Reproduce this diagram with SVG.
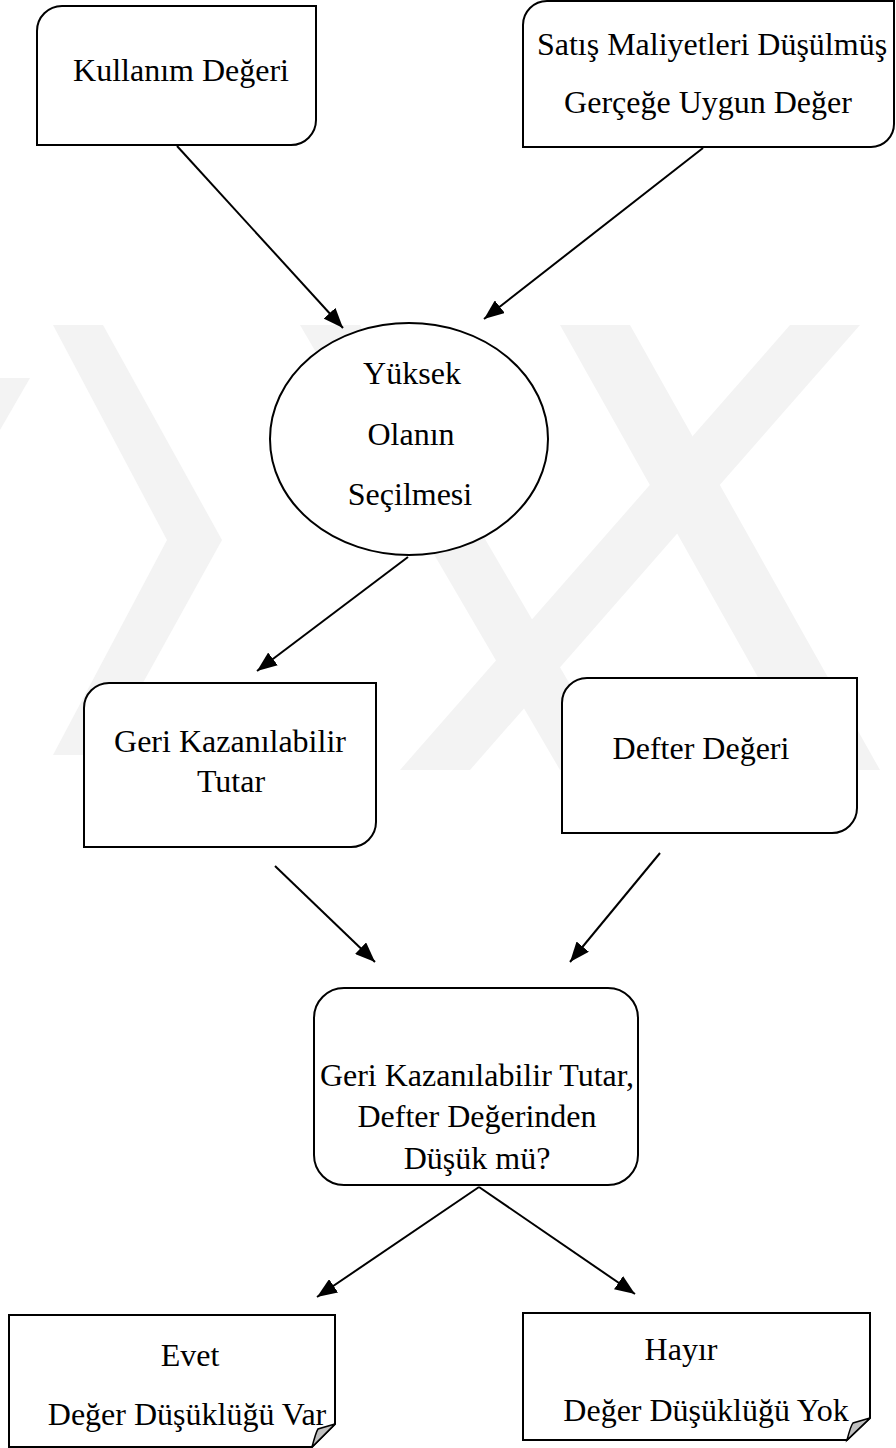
<svg xmlns="http://www.w3.org/2000/svg" width="896" height="1448" viewBox="0 0 896 1448">
<style>
.box{fill:#fff;stroke:#000;stroke-width:2}
.t{font-family:'Liberation Serif','Times New Roman',serif;font-size:32px;fill:#000;text-anchor:middle}
.c{stroke:#000;stroke-width:2;fill:none;marker-end:url(#ah)}
.wm{fill:#f3f3f3}
.fold{fill:#c0c0c0;stroke:#000;stroke-width:1.5}
</style>
<defs>
<marker id="ah" viewBox="0 0 20 16" refX="20" refY="8" markerWidth="20" markerHeight="16" orient="auto" markerUnits="userSpaceOnUse">
<path d="M0,0 L20,8 L0,16 Z" fill="#000"/>
</marker>
</defs>
<rect width="896" height="1448" fill="#fff"/>
<g id="watermark">
<polygon class="wm" points="53,325 103,325 222,540 103,755 53,755 167,540"/>
<polygon class="wm" points="0,378 30,378 0,430"/>
<polygon class="wm" points="300,325 360,325 620,770 560,770"/>
<polygon class="wm" points="560,325 630,325 880,770 810,770"/>
<polygon class="wm" points="790,325 860,325 470,770 400,770"/>
</g>
<g id="connectors">
<line class="c" x1="177" y1="146" x2="343" y2="328"/>
<line class="c" x1="703" y1="148" x2="484" y2="319"/>
<line class="c" x1="408" y1="557" x2="257" y2="671"/>
<line class="c" x1="275" y1="866" x2="375" y2="962"/>
<line class="c" x1="660" y1="853" x2="570" y2="962"/>
<line class="c" x1="479" y1="1187" x2="317" y2="1297"/>
<line class="c" x1="479" y1="1187" x2="635" y2="1294"/>
</g>
<g id="kullanim">
<path class="box" d="M37,31 A25,25 0 0 1 62,6 L316,6 L316,120 A25,25 0 0 1 291,145 L37,145 Z"/>
<text class="t" x="181" y="81">Kullanım Değeri</text>
</g>
<g id="satis">
<path class="box" d="M523,25 A24,24 0 0 1 547,1 L894,1 L894,124 A23,23 0 0 1 871,147 L523,147 Z"/>
<text class="t" x="712" y="55">Satış Maliyetleri Düşülmüş</text>
<text class="t" x="708" y="113">Gerçeğe Uygun Değer</text>
</g>
<g id="yuksek">
<ellipse class="box" cx="409" cy="439" rx="139" ry="116"/>
<text class="t" x="412" y="384">Yüksek</text>
<text class="t" x="411" y="445">Olanın</text>
<text class="t" x="410" y="505">Seçilmesi</text>
</g>
<g id="geri">
<path class="box" d="M84,708 A25,25 0 0 1 109,683 L376,683 L376,822 A25,25 0 0 1 351,847 L84,847 Z"/>
<text class="t" x="230" y="752">Geri Kazanılabilir</text>
<text class="t" x="231" y="792">Tutar</text>
</g>
<g id="defter">
<path class="box" d="M562,703 A25,25 0 0 1 587,678 L857,678 L857,808 A25,25 0 0 1 832,833 L562,833 Z"/>
<text class="t" x="701" y="759">Defter Değeri</text>
</g>
<g id="karar">
<rect class="box" x="314" y="988" width="324" height="197" rx="30" ry="30"/>
<text class="t" x="477" y="1086">Geri Kazanılabilir Tutar,</text>
<text class="t" x="477" y="1127">Defter Değerinden</text>
<text class="t" x="477" y="1169">Düşük mü?</text>
</g>
<g id="evet">
<path class="box" d="M9,1315 L335,1315 L335,1424 L312,1447 L9,1447 Z"/>
<path class="fold" d="M312,1447 Q316,1432 318,1429 L335,1424 Z"/>
<text class="t" x="190" y="1366">Evet</text>
<text class="t" x="187" y="1425">Değer Düşüklüğü Var</text>
</g>
<g id="hayir">
<path class="box" d="M523,1313 L870,1313 L870,1418 L847,1440 L523,1440 Z"/>
<path class="fold" d="M847,1440 Q851,1425 853,1423 L870,1418 Z"/>
<text class="t" x="681" y="1360">Hayır</text>
<text class="t" x="706" y="1421">Değer Düşüklüğü Yok</text>
</g>
</svg>
